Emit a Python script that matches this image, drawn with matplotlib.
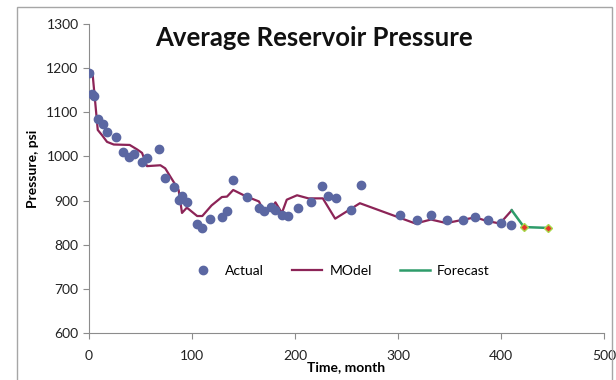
import matplotlib

matplotlib.use("Agg")
import matplotlib.pyplot as plt  # noqa: E402
from matplotlib.patches import Rectangle  # noqa: E402

# actual pressure measurements
actual_t = [0, 2.7, 5, 8.4, 14, 17, 26, 33, 38.5, 44, 51, 56, 68, 74, 83, 87, 90, 95,
            104.6, 110, 117, 129, 134, 140, 153, 165, 170, 177, 180.5, 187, 193, 203,
            216, 226, 232, 240, 254, 264.5, 302, 318, 332, 348, 363, 375, 387, 399.6, 410]
actual_p = [1190, 1141, 1137, 1085, 1074, 1056, 1043, 1009, 998, 1006, 988, 996, 1017,
            952, 931, 902, 911, 897, 846, 837, 858, 862, 876, 946, 907, 884, 876, 885,
            878, 868, 865, 884, 897, 933, 910, 905, 878, 936, 868, 856, 868, 855, 855,
            863, 855, 849, 844]

# model curve
model_t = [3.3, 8.5, 12.7, 17.5, 24, 39.5, 46.6, 51.5, 56.3, 69.3, 74, 87, 90.3, 95,
           105, 110, 119, 129, 134, 140, 152, 165, 169.5, 176, 181, 187.3, 192, 202,
           213, 227, 239, 263, 317, 332, 347, 362, 375, 386, 399, 410.4]
model_p = [1192, 1060, 1048, 1033, 1027, 1026, 1016, 1008, 978, 980, 973, 924, 872, 884,
           865, 865, 889, 908, 909, 924, 910, 898, 877, 878, 896, 872, 902, 912,
           905, 905, 859, 894, 848, 857, 849, 856, 862, 854, 848, 878]

# forecast
forecast_t = [410.4, 422.3, 445.9]
forecast_p = [878, 840, 838]

plt.rcParams["font.family"] = ["Lato", "DejaVu Sans"]
fig = plt.figure(figsize=(6.16, 3.80), dpi=100)

fig.patches.append(Rectangle((17 / 616, -0.05), (612 - 17) / 616, 1.05 - 7 / 380,
                             transform=fig.transFigure, fill=False,
                             edgecolor="#a6a6a6", linewidth=1.0))

ax = fig.add_axes([89 / 616, 1 - 333 / 380, (604 - 89) / 616, (333 - 24) / 380])

ax.plot(actual_t, actual_p, "o", color="#5b67a2", markersize=6, label="Actual", zorder=3)
ax.plot(model_t, model_p, "-", color="#8c2457", linewidth=1.6, label="MOdel", zorder=2)
ax.plot(forecast_t, forecast_p, "-", color="#2e9c6a", linewidth=1.8, label="Forecast", zorder=2)
ax.plot(forecast_t[1:], forecast_p[1:], "D", color="#e8342a", markeredgecolor="#a8d84a",
        markersize=4.5, markeredgewidth=1.0, zorder=4)

ax.set_xlim(0, 500)
ax.set_ylim(600, 1300)
ax.set_xticks(range(0, 501, 100))
ax.set_yticks(range(600, 1301, 100))

for side in ("top", "right"):
    ax.spines[side].set_visible(False)
for side in ("left", "bottom"):
    ax.spines[side].set_color("#8c8c8c")
ax.tick_params(colors="#8c8c8c", labelcolor="#222222", labelsize=10, length=4, direction="out")
ax.tick_params(axis="x", pad=8)

ax.set_xlabel("Time, month", fontsize=10, fontweight="bold")
ax.xaxis.set_label_coords(0.5, -0.092)
ax.set_ylabel("Pressure, psi", fontsize=10, fontweight="bold")
ax.yaxis.set_label_coords(-0.098, 0.53)

ax.text(0.436, 0.955, "Average Reservoir Pressure", transform=ax.transAxes,
        fontsize=18.5, fontweight="bold", ha="center", va="center", color="#111111")

ax.legend(loc="center", bbox_to_anchor=(0.485, 0.2), ncol=3, frameon=False,
          fontsize=10, handlelength=2.2, columnspacing=2.0, handletextpad=0.5)

fig.savefig("out.png", dpi=100)
